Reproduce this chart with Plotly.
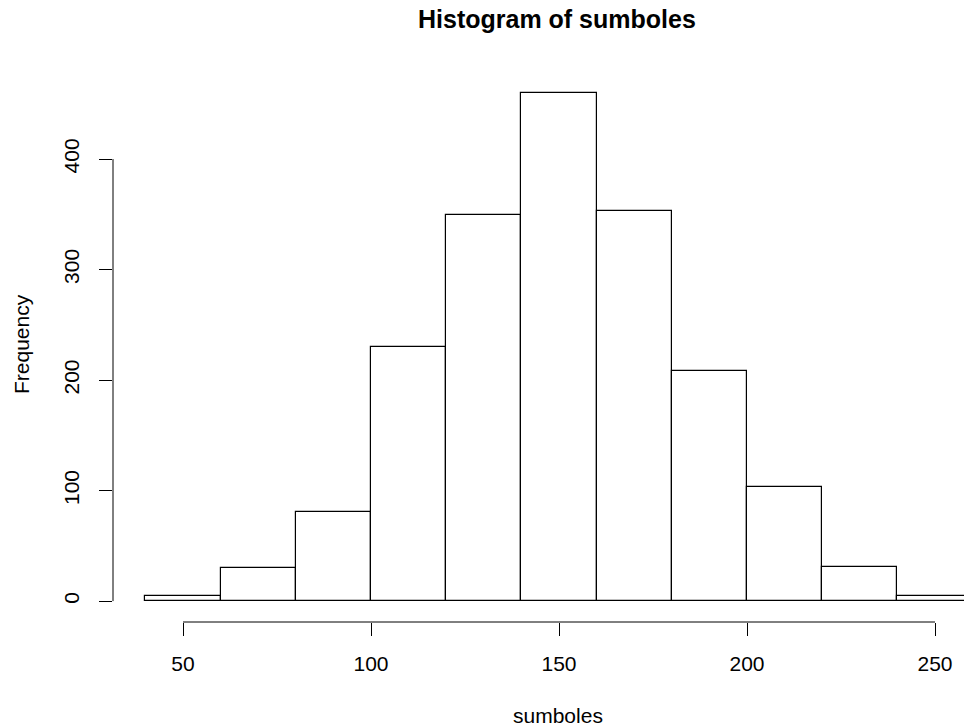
import plotly.graph_objects as go

# Histogram data (bin starts, bin width, counts)
bin_starts = [40, 60, 80, 100, 120, 140, 160, 180, 200, 220, 240]
bin_width = 20
counts = [5, 30, 81, 230, 349, 460, 353, 208, 103, 31, 5]
x_ticks = [50, 100, 150, 200, 250]
y_ticks = [0, 100, 200, 300, 400]

centers = [s + bin_width / 2 for s in bin_starts]

FONT = "Liberation Sans, Arial, Helvetica, sans-serif"

fig = go.Figure()
fig.add_trace(go.Bar(
    x=centers, y=counts, width=[bin_width] * len(counts),
    marker=dict(color="white", line=dict(color="black", width=1.2)),
    hoverinfo="x+y", showlegend=False,
))

W, H = 964, 727
L, R, T, B = 113, 0, 72, 105

fig.update_layout(
    width=W, height=H,
    margin=dict(l=L, r=R, t=T, b=B, pad=0),
    plot_bgcolor="white", paper_bgcolor="white",
    font=dict(family=FONT, size=21, color="black"),
    bargap=0,
    xaxis=dict(
        range=[31.38, 257.71], tickvals=x_ticks, ticks="outside", ticklen=13,
        tickwidth=1, tickcolor="black", showline=False, showgrid=False,
        zeroline=False, tickfont=dict(size=21), ticklabelstandoff=10,
    ),
    yaxis=dict(
        range=[-18.9, 478.8], tickvals=y_ticks, ticks="outside", ticklen=13,
        tickwidth=1, tickcolor="black", showline=False, showgrid=False,
        zeroline=False, tickangle=-90, tickfont=dict(size=21), ticklabelstandoff=12,
    ),
    shapes=[
        dict(type="line", xref="x", yref="paper", x0=x_ticks[0], x1=x_ticks[-1],
             y0=0, y1=0, line=dict(color="black", width=1)),
        dict(type="line", xref="paper", yref="y", x0=0, x1=0,
             y0=y_ticks[0], y1=y_ticks[-1], line=dict(color="black", width=1)),
    ],
    annotations=[
        dict(text="<b>Histogram of sumboles</b>", xref="paper", yref="paper",
             x=(557 - L) / (W - L - R), y=1 + (T - 19) / (H - T - B),
             xanchor="center", yanchor="middle", showarrow=False,
             font=dict(size=25, family=FONT)),
        dict(text="sumboles", xref="paper", yref="paper",
             x=(558 - L) / (W - L - R), y=-(715 - (H - B)) / (H - T - B),
             xanchor="center", yanchor="middle", showarrow=False,
             font=dict(size=21, family=FONT)),
        dict(text="Frequency", xref="paper", yref="paper",
             x=-(L - 21) / (W - L - R), y=((H - B) - 344) / (H - T - B),
             xanchor="center", yanchor="middle", showarrow=False, textangle=-90,
             font=dict(size=21, family=FONT)),
    ],
)

fig.write_html("out.html", config={"displayModeBar": False})

# remove default body margin so the figure sits at the page origin
with open("out.html", "r", encoding="utf-8") as f:
    html = f.read()
html = html.replace("<body>", '<body style="margin:0;padding:0;overflow:hidden">', 1)
with open("out.html", "w", encoding="utf-8") as f:
    f.write(html)
